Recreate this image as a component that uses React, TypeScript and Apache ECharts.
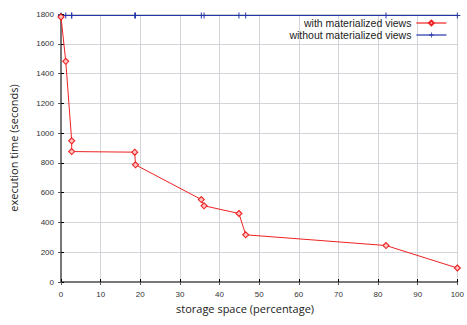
import React, { useEffect, useRef } from "react";
import * as echarts from "echarts";

const storage = [0, 1.2, 2.7, 2.7, 18.6, 18.8, 35.4, 36.1, 44.9, 46.6, 82, 100];
const withViews = [1780, 1482, 948, 876, 872, 787, 554, 512, 460, 317, 245, 94];
const withoutViews = [1790, 1790, 1790, 1790, 1790, 1790, 1790, 1790, 1790, 1790, 1790, 1790];
const seriesNames = ["with materialized views", "without materialized views"];
const xTitle = "storage space (percentage)";
const yTitle = "execution time (seconds)";

const plusPath = "path://M-0.16,-1H0.16V-0.16H1V0.16H0.16V1H-0.16V0.16H-1V-0.16H-0.16Z";

export default function App() {
  const ref = useRef<HTMLDivElement>(null);
  useEffect(() => {
    if (!ref.current) return;
    const chart = echarts.init(ref.current, null, { renderer: "svg" });
    const tickLabel = {
      color: "#333",
      fontSize: 8,
      fontFamily: "Liberation Sans, Arial, sans-serif",
      formatter: (v: number) => String(v),
    };
    const titleFont = "Open Sans, sans-serif";
    const legendBase = {
      orient: "vertical",
      right: 20,
      padding: 0,
      align: "right",
      itemWidth: 30,
      itemHeight: 6,
      itemGap: 0,
      lineStyle: { width: 1.2 },
      textStyle: { fontSize: 10.5, lineHeight: 11, color: "#222", fontFamily: "Liberation Sans, Arial, sans-serif" },
    };
    chart.setOption({
      animation: false,
      backgroundColor: "#fff",
      grid: { left: 60, right: 7, top: 14, bottom: 43 },
      legend: [
        { ...legendBase, top: 17.5, data: [seriesNames[0]] },
        { ...legendBase, top: 29.5, data: [seriesNames[1]] },
      ],
      graphic: [
        {
          type: "text",
          left: 176,
          top: 303,
          style: { text: xTitle, fontSize: 11, fill: "#222", fontFamily: titleFont },
        },
      ],
      xAxis: [
        {
          type: "value",
          min: 0,
          max: 100,
          interval: 10,
          axisLine: { lineStyle: { color: "#000", width: 1 } },
          axisTick: { inside: true, length: 3, lineStyle: { color: "#000" } },
          axisLabel: { ...tickLabel, margin: 8 },
          splitLine: { show: true, lineStyle: { color: "#d2d4da", width: 1 } },
        },
        {
          type: "value",
          position: "top",
          min: 0,
          max: 100,
          interval: 10,
          axisLine: { show: true, lineStyle: { color: "#777", width: 2 } },
          axisTick: { show: true, inside: true, length: 3, lineStyle: { color: "#555" } },
          axisLabel: { show: false },
          splitLine: { show: false },
        },
      ],
      yAxis: [
        {
          type: "value",
          min: 0,
          max: 1800,
          interval: 200,
          name: yTitle,
          nameLocation: "middle",
          nameGap: 42,
          nameTextStyle: { fontSize: 11, color: "#222", fontFamily: titleFont },
          axisLine: { show: true, lineStyle: { color: "#000", width: 1 } },
          axisTick: { show: true, inside: true, length: 3, lineStyle: { color: "#000" } },
          axisLabel: { ...tickLabel, margin: 7 },
          splitLine: { show: true, lineStyle: { color: "#d2d4da", width: 1 } },
        },
        {
          type: "value",
          position: "right",
          min: 0,
          max: 1800,
          interval: 200,
          axisLine: { show: true, lineStyle: { color: "#777", width: 2 } },
          axisTick: { show: true, inside: true, length: 3, lineStyle: { color: "#555" } },
          axisLabel: { show: false },
          splitLine: { show: false },
        },
      ],
      series: [
        {
          name: seriesNames[0],
          type: "line",
          data: storage.map((x, i) => [x, withViews[i]]),
          symbol: "diamond",
          symbolSize: 6,
          itemStyle: { color: "#ffc4c4", borderColor: "#ee2222", borderWidth: 1.1 },
          lineStyle: { color: "#ee2222", width: 1 },
          z: 3,
        },
        {
          name: seriesNames[1],
          type: "line",
          data: storage.map((x, i) => [x, withoutViews[i]]),
          symbol: plusPath,
          symbolSize: 6,
          itemStyle: { color: "#2233aa" },
          lineStyle: { color: "#2233aa", width: 1 },
          z: 2,
        },
      ],
    });
    return () => chart.dispose();
  }, []);
  return <div ref={ref} style={{ width: 467, height: 325, position: "absolute", left: 0, top: 0 }} />;
}
